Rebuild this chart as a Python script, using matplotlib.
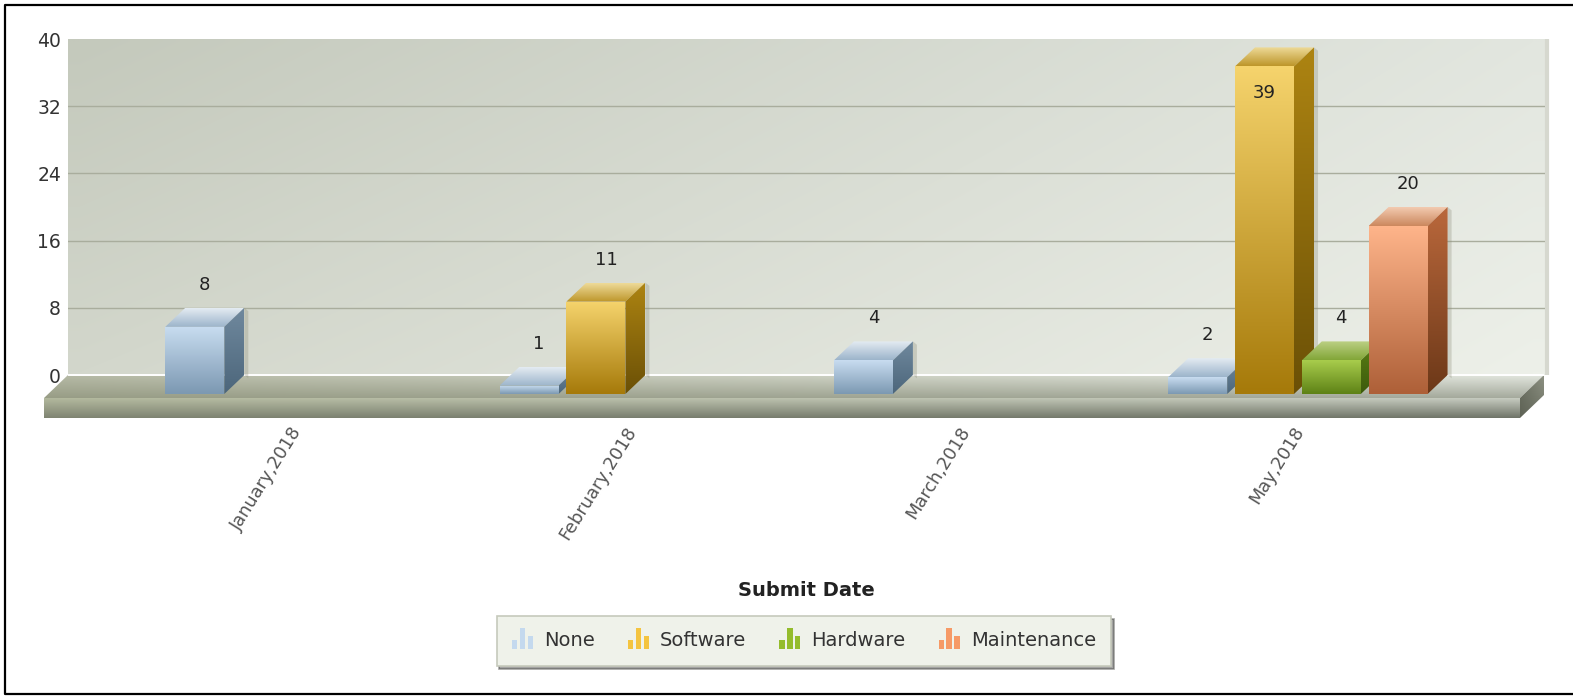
import numpy as np
import matplotlib
matplotlib.use('Agg')
import matplotlib.pyplot as plt
from matplotlib.legend_handler import HandlerBase
from matplotlib.lines import Line2D
from matplotlib.patches import Polygon, Rectangle
from matplotlib.transforms import ScaledTranslation

months = ['January,2018', 'February,2018', 'March,2018', 'May,2018']
series = ['None', 'Software', 'Hardware', 'Maintenance']
none_vals = [8, 1, 4, 2]
software_vals = [0, 11, 0, 39]
hardware_vals = [0, 0, 0, 4]
maintenance_vals = [0, 0, 0, 20]
yticks = [0, 8, 16, 24, 32, 40]

# front top, front bottom, side top, side bottom, roof left, roof right
colors = {
    'None': ['#c8dcf0', '#7c99b2', '#70899e', '#4c667b', '#9cb4cb', '#e4ecf2'],
    'Software': ['#f5d36c', '#a67a0a', '#ad8412', '#6b5006', '#bd962a', '#eeda98'],
    'Hardware': ['#a8cc4c', '#5e8216', '#5a8014', '#3c5a0c', '#82a638', '#bcd084'],
    'Maintenance': ['#feb48a', '#ae6038', '#ba683c', '#6c3818', '#cc885e', '#f2cab0'],
}

W, H = 1573, 696
fig = plt.figure(figsize=(W / 100, H / 100), dpi=100, facecolor='white')
plt.rcParams['font.family'] = 'DejaVu Sans'

# axes is the back wall
left, right, top, bottom = 68, 1545, 39, 375
ax = fig.add_axes([left / W, 1 - bottom / H, (right - left) / W, (bottom - top) / H])
px_x = 334.3        # pixels per category
px_y = 8.4          # pixels per value
xlim = ((left - 295) / px_x, (right - 295) / px_x)
ylim = (0, 40)

bar_w = 59 / px_x
step = 66.8 / px_x
dx = 20 / px_x      # bar depth
dy = 19 / px_y
fx = 24 / px_x      # floor depth
fy = 23 / px_y
fh = 20 / px_y      # floor thickness


def hexrgb(c):
    return np.array(matplotlib.colors.to_rgb(c))


def shade(verts, tl, tr, bl, br, zorder=1):
    # polygon with a four corner colour blend
    verts = np.array(verts, dtype=float)
    u, v = np.meshgrid(np.linspace(0, 1, 64), np.linspace(0, 1, 64))
    u = u[..., None]
    v = v[..., None]
    img = (1 - v) * ((1 - u) * hexrgb(tl) + u * hexrgb(tr)) + v * ((1 - u) * hexrgb(bl) + u * hexrgb(br))
    x0, x1 = verts[:, 0].min(), verts[:, 0].max()
    y0, y1 = verts[:, 1].min(), verts[:, 1].max()
    im = ax.imshow(img, extent=(x0, x1, y0, y1), origin='upper', aspect='auto',
                   interpolation='bilinear', zorder=zorder)
    clip = Polygon(verts, closed=True, transform=ax.transData, fc='none', ec='none')
    ax.add_patch(clip)
    im.set_clip_box(fig.bbox)   # images stop at the axes otherwise
    im.set_clip_path(clip)


def bar3d(x, v, cols, z):
    l, r = x - bar_w / 2, x + bar_w / 2
    t = v - dy
    b = -dy
    # soft shadow on the wall
    ax.add_patch(Polygon([(r + dx, v), (r + dx + 0.012, v - 0.4), (r + dx + 0.012, -0.4), (r + dx, 0)],
                         closed=True, fc='#8c8c78', ec='none', alpha=0.3, zorder=z, clip_on=False))
    shade([(l, t), (r, t), (r, b), (l, b)], cols[0], cols[0], cols[1], cols[1], z + 0.03)
    shade([(r, t), (r + dx, v), (r + dx, 0), (r, b)], cols[2], cols[2], cols[3], cols[3], z + 0.02)
    shade([(l, t), (l + dx, v), (r + dx, v), (r, t)], cols[5], cols[5], cols[4], cols[4], z + 0.01)


# wall and grid
xl, xr = xlim
shade([(xl, 0), (xl, 40), (xr, 40), (xr, 0)], '#c4c9bc', '#e2e6df', '#d3d7cc', '#edf0e9', 0.5)
for t in yticks[1:-1]:
    ax.plot(xlim, [t, t], color='#a9ad9d', lw=1.0, zorder=0.8)
ax.plot([xr + 0.006, xr + 0.006], [0, 40], color='#d6d8cf', lw=3, zorder=0.7, clip_on=False,
        solid_capstyle='butt')

# floor
fr = xr - 0.003
shade([(xl, 0), (fr, 0), (fr - fx, -fy), (xl - fx, -fy)], '#b6baa6', '#e2e6de', '#989d86', '#a5aa9d', 0.9)
shade([(xl - fx, -fy), (fr - fx, -fy), (fr - fx, -fy - fh), (xl - fx, -fy - fh)],
      '#b3b99e', '#c6cbc0', '#7f8472', '#6f7468', 0.9)
shade([(fr - fx, -fy), (fr, 0), (fr, -fh), (fr - fx, -fy - fh)], '#6f7465', '#8d9182', '#5e6255', '#6f7366', 0.9)
ax.plot([xl, fr], [0, 0], color='white', lw=1.4, zorder=1.0, solid_capstyle='butt', clip_on=False)

# bars, left to right so the next bar covers the side of the last one
all_vals = [none_vals, software_vals, hardware_vals, maintenance_vals]
for k in range(len(months)):
    for i, name in enumerate(series):
        v = all_vals[i][k]
        if v == 0:
            continue
        x = k + (i - 1.5) * step
        bar3d(x, v, colors[name], 2 + k + i * 0.1)
        if v > 36:
            # no room above, goes on the front face
            ax.annotate(str(v), (x, v), xytext=(0, -46), textcoords='offset pixels', ha='center',
                        va='center', fontsize=13, color='#222222', zorder=20, annotation_clip=False)
        else:
            ax.annotate(str(v), (x, v), xytext=(10, 23), textcoords='offset pixels', ha='center',
                        va='center', fontsize=13, color='#222222', zorder=20, annotation_clip=False)

ax.set_xlim(xlim)
ax.set_ylim(ylim)
for s in ax.spines.values():
    s.set_visible(False)
ax.set_yticks(yticks)
ax.set_yticklabels([str(t) for t in yticks], fontsize=13.5, color='#333333')
ax.set_xticks(range(len(months)))
ax.set_xticklabels(months, rotation=58, ha='right', va='top', rotation_mode='anchor',
                   fontsize=12.8, color='#555555')
ax.tick_params(axis='y', length=0, pad=5)
ax.tick_params(axis='x', length=0, pad=35)
# labels sit a little left of the tick
shift = ScaledTranslation(-5 / 100, 0, fig.dpi_scale_trans)
for lab in ax.get_xticklabels():
    lab.set_transform(lab.get_transform() + shift)
ax.set_xlabel('Submit Date', fontsize=14, fontweight='bold', color='#222222')
ax.xaxis.set_label_coords(0.5, -(591 - 375) / (bottom - top), transform=ax.transAxes)
ax.xaxis.label.set_va('center')


class IconHandler(HandlerBase):
    # little bars like the legend icon
    def create_artists(self, legend, orig, xd, yd, width, height, fontsize, trans):
        c = orig.get_facecolor()
        out = []
        w = width * 0.24
        for j, h in enumerate([0.7, 1.6, 0.95]):
            out.append(Rectangle((xd + j * w * 1.45, yd - 2), w, height * h,
                                 fc=c, ec='none', transform=trans))
        return out


icon_cols = ['#c4d9ee', '#f4c440', '#94bc2c', '#f69a66']
handles = [Rectangle((0, 0), 1, 1, fc=c) for c in icon_cols]
leg = fig.legend(handles, series, ncol=4, loc='center',
                 bbox_to_anchor=(804 / W, 1 - 641 / H), frameon=True, fancybox=False, shadow=True,
                 facecolor='#eff2ea', edgecolor='#c6cabc', fontsize=14, labelcolor='#333333',
                 handler_map={Rectangle: IconHandler()}, handlelength=1.15, handletextpad=0.5,
                 columnspacing=1.7, borderpad=0.8, borderaxespad=0)
leg.get_frame().set_linewidth(1.2)
leg.get_frame().set_alpha(1)

# black lines of the screenshot, open on the right
frame_x = [1, 5 / W, 5 / W, 1]
frame_y = [1 - 5 / H, 1 - 5 / H, 1 - 694 / H, 1 - 694 / H]
fig.add_artist(Line2D(frame_x, frame_y, color='black', lw=1.6, transform=fig.transFigure))

fig.savefig('out.png', dpi=100)
